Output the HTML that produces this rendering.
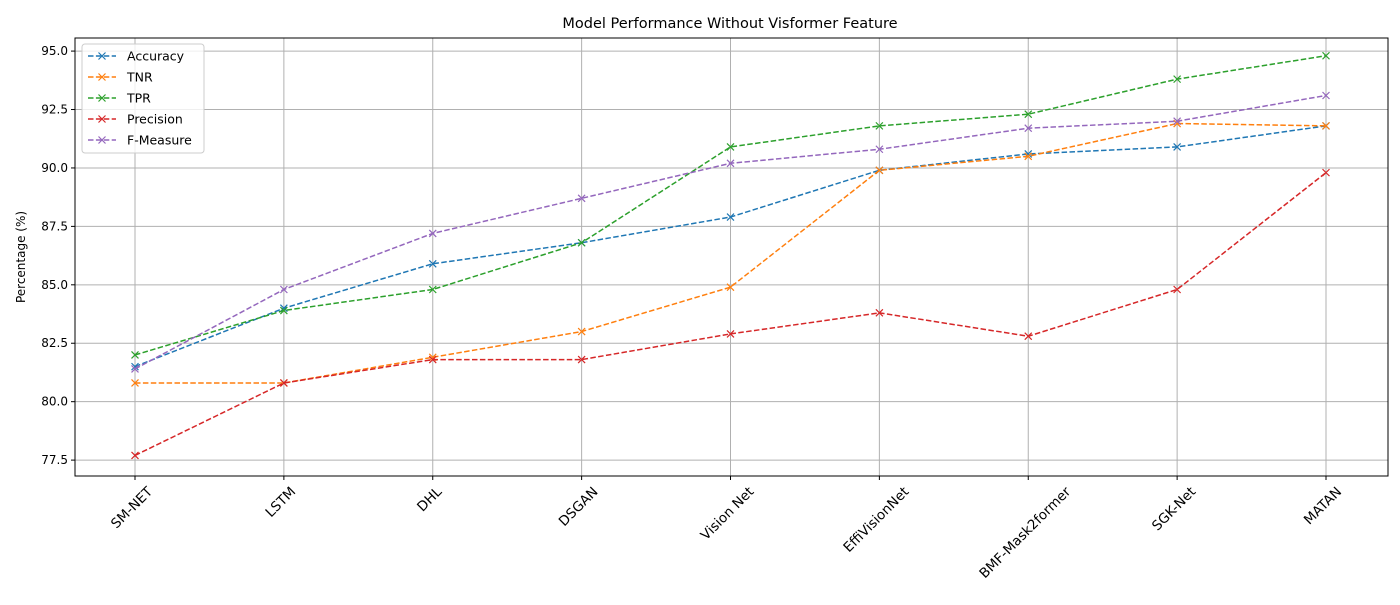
<!DOCTYPE html>
<html><head><meta charset="utf-8"><style>body{margin:0;background:#fff}svg{font-family:"DejaVu Sans","Liberation Sans",sans-serif}</style></head>
<body>
<svg id="chart" width="1400" height="600"></svg>
<script>
const categories=["SM-NET","LSTM","DHL","DSGAN","Vision Net","EffiVisionNet","BMF-Mask2former","SGK-Net","MATAN"];
const accuracy=[81.5,84.0,85.9,86.8,87.9,89.9,90.6,90.9,91.8];
const tnr=[80.8,80.8,81.9,83.0,84.9,89.9,90.5,91.9,91.8];
const tpr=[82.0,83.9,84.8,86.8,90.9,91.8,92.3,93.8,94.8];
const precision=[77.7,80.8,81.8,81.8,82.9,83.8,82.8,84.8,89.8];
const fmeasure=[81.4,84.8,87.2,88.7,90.2,90.8,91.7,92.0,93.1];
const seriesNames=["Accuracy","TNR","TPR","Precision","F-Measure"];
const yTicks=[77.5,80.0,82.5,85.0,87.5,90.0,92.5,95.0];
const series=[accuracy,tnr,tpr,precision,fmeasure];
const colors=["#1f77b4","#ff7f0e","#2ca02c","#d62728","#9467bd"];
const L=75,R=1388,T=38,B=476,ymin=76.82,ymax=95.56;
const x0=135,x1=1326;
const xs=i=>x0+(x1-x0)*i/(categories.length-1);
const ys=v=>B-(v-ymin)/(ymax-ymin)*(B-T);
const svg=document.getElementById('chart');const NS="http://www.w3.org/2000/svg";
function mk(t,a,p){const e=document.createElementNS(NS,t);for(const k in a)e.setAttribute(k,a[k]);(p||svg).appendChild(e);return e;}
let e=mk('text',{x:730,y:28,'text-anchor':'middle','font-size':14.5,fill:'#000'});e.textContent="Model Performance Without Visformer Feature";


categories.forEach((c,i)=>{
 const x=xs(i);
 const g=mk('line',{x1:x,x2:x,y1:T,y2:B,stroke:'#b0b0b0','stroke-width':1});
 
 
 mk('line',{x1:x,x2:x,y1:B,y2:B+4,stroke:'#000'});
 const t=mk('text',{x:x-3,y:0,'text-anchor':'middle','dominant-baseline':'central','font-size':13.5,fill:'#000'});t.textContent=c;
 const w=t.getComputedTextLength();
 const h=(w+13)*0.7071;
 const cy=B+9+h/2;
 t.setAttribute('y',cy);
 t.setAttribute('transform',`rotate(-45 ${x-3} ${cy})`);
 
 
});
yTicks.forEach(v=>{
 const y=ys(v);
 const g=mk('line',{x1:L,x2:R,y1:y,y2:y,stroke:'#b0b0b0','stroke-width':1});
 
 
 mk('line',{x1:L-4,x2:L,y1:y,y2:y,stroke:'#000'});
 const t=mk('text',{x:L-7,y:y+4,'text-anchor':'end','font-size':12,fill:'#000'});t.textContent=v.toFixed(1);
 
 
});
const fr=mk('rect',{x:L,y:T,width:R-L,height:B-T,fill:'none',stroke:'#000','stroke-width':1});


e=mk('text',{x:25,y:257,'text-anchor':'middle','font-size':12,transform:'rotate(-90 25 257)',fill:'#000'});e.textContent="Percentage (%)";


function marker(x,y,c,p){const d=3.5;mk('path',{d:`M${x-d},${y-d}L${x+d},${y+d}M${x-d},${y+d}L${x+d},${y-d}`,stroke:c,'stroke-width':1.2},p);}
series.forEach((s,k)=>{
 const g=mk('g',{});
 
 
 mk('polyline',{points:s.map((v,i)=>xs(i)+','+ys(v)).join(' '),fill:'none',stroke:colors[k],'stroke-width':1.5,'stroke-dasharray':'5.5,2.4'},g);
 s.forEach((v,i)=>marker(xs(i),ys(v),colors[k],g));
});
const lg=mk('g',{});


mk('rect',{x:82,y:44,width:122,height:109,rx:3,fill:'#fff','fill-opacity':0.8,stroke:'#ccc'},lg);
seriesNames.forEach((n,k)=>{
 const y=56+k*21;
 const it=mk('g',{},lg);
 
 
 mk('line',{x1:88,x2:116,y1:y,y2:y,stroke:colors[k],'stroke-width':1.5,'stroke-dasharray':'5.5,2.4'},it);
 marker(102,y,colors[k],it);
 const t=mk('text',{x:127,y:y+4.5,'font-size':12.5,fill:'#000'},it);t.textContent=n;
});
</script>
</body></html>
